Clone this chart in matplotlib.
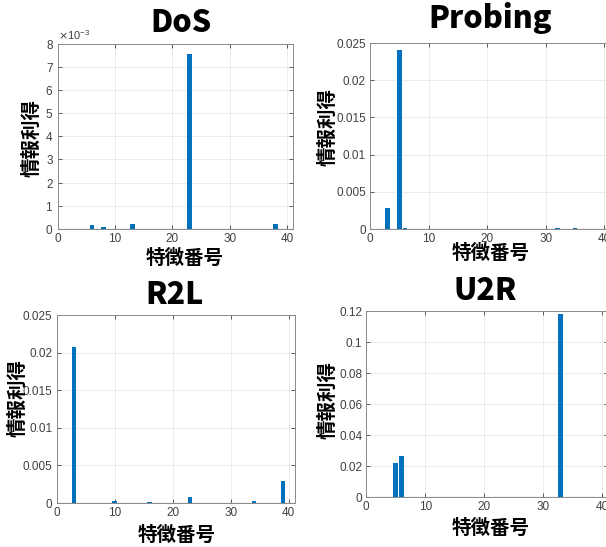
import matplotlib
matplotlib.use("Agg")
import matplotlib.pyplot as plt
from matplotlib.ticker import ScalarFormatter, MultipleLocator
import numpy as np

W, H = 606, 547

features = list(range(1, 41))

def sparse(d):
    v = [0.0] * 40
    for k, val in d.items():
        v[k - 1] = val
    return v

dos_values = sparse({6: 0.00015, 8: 0.00007, 13: 0.0002, 23: 0.00755, 38: 0.0002})
probing_values = sparse({3: 0.0028, 5: 0.0240, 6: 0.00015, 23: 0.00002,
                         32: 0.00015, 34: 0.00005, 35: 0.00015})
r2l_values = sparse({1: 0.00005, 3: 0.0208, 5: 0.00003, 6: 0.00003, 9: 0.00003,
                     10: 0.0003, 13: 0.00002, 16: 0.0001, 23: 0.0008,
                     33: 0.00005, 34: 0.00025, 39: 0.0029})
u2r_values = sparse({5: 0.022, 6: 0.0265, 33: 0.118})

titles = ["DoS", "Probing", "R2L", "U2R"]
xlabel_text = "特徴番号"
ylabel_text = "情報利得"
xticks = [0, 10, 20, 30, 40]

bar_color = "#0072BD"
tick_color = "#404040"
jp = ["Noto Sans CJK JP", "DejaVu Sans"]

fig = plt.figure(figsize=(W / 100, H / 100), dpi=100)

def add_axes_px(left, top, right, bottom):
    return fig.add_axes([left / W, 1 - bottom / H, (right - left) / W, (bottom - top) / H])

panels = [
    (dos_values, 0.008, 0.001, (57.7, 44, 293, 228.7), (181, 22), (185, 258), (32, 138)),
    (probing_values, 0.025, 0.005, (370, 43, 610, 229), (490, 18), (491, 253), (328, 127)),
    (r2l_values, 0.025, 0.005, (56.7, 315.3, 294.5, 503), (175, 295), (177, 535), (18, 398)),
    (u2r_values, 0.12, 0.02, (366.3, 311.3, 608, 497), (485, 291), (491, 528), (328, 400)),
]

for i, (vals, ymax, ystep, box, tpos, xpos, ypos) in enumerate(panels):
    ax = add_axes_px(*box)
    ax.bar(features, vals, width=0.8, color=bar_color, edgecolor="none", zorder=3)
    ax.set_xlim(0, 41)
    ax.set_ylim(0, ymax)
    ax.set_xticks(xticks)
    ax.yaxis.set_major_locator(MultipleLocator(ystep))
    if i == 0:
        fmt = ScalarFormatter(useMathText=True)
        fmt.set_powerlimits((-2, 2))
        ax.yaxis.set_major_formatter(fmt)
        ax.yaxis.get_offset_text().set_fontsize(8)
        ax.yaxis.get_offset_text().set_color(tick_color)
        ax.yaxis.get_offset_text().set_family("Liberation Sans")
    else:
        ax.yaxis.set_major_formatter(plt.FuncFormatter(lambda v, p: ("%g" % round(v, 4))))
    ax.grid(True, color="#262626", alpha=0.10, linewidth=0.6, zorder=0)
    ax.tick_params(direction="in", length=3, width=0.6, colors=tick_color,
                   labelsize=8.5, top=True, right=True, pad=3)
    for lab in ax.get_xticklabels() + ax.get_yticklabels():
        lab.set_family("Liberation Sans")
    for s in ax.spines.values():
        s.set_color("#8a8a8a")
        s.set_linewidth(0.7)
    ax.axhline(0, color="#555555", linewidth=0.8, zorder=4)

    fig.text(tpos[0] / W, 1 - tpos[1] / H, titles[i], ha="center", va="center",
             fontsize=22, fontweight="heavy", family=jp, color="black")
    fig.text(xpos[0] / W, 1 - xpos[1] / H, xlabel_text, ha="center", va="center",
             fontsize=14, fontweight="bold", family=jp, color="black")
    fig.text(ypos[0] / W, 1 - ypos[1] / H, ylabel_text, ha="center", va="center",
             rotation=90, fontsize=14, fontweight="bold", family=jp, color="black")

fig.savefig("out.png", dpi=100, facecolor="white")
